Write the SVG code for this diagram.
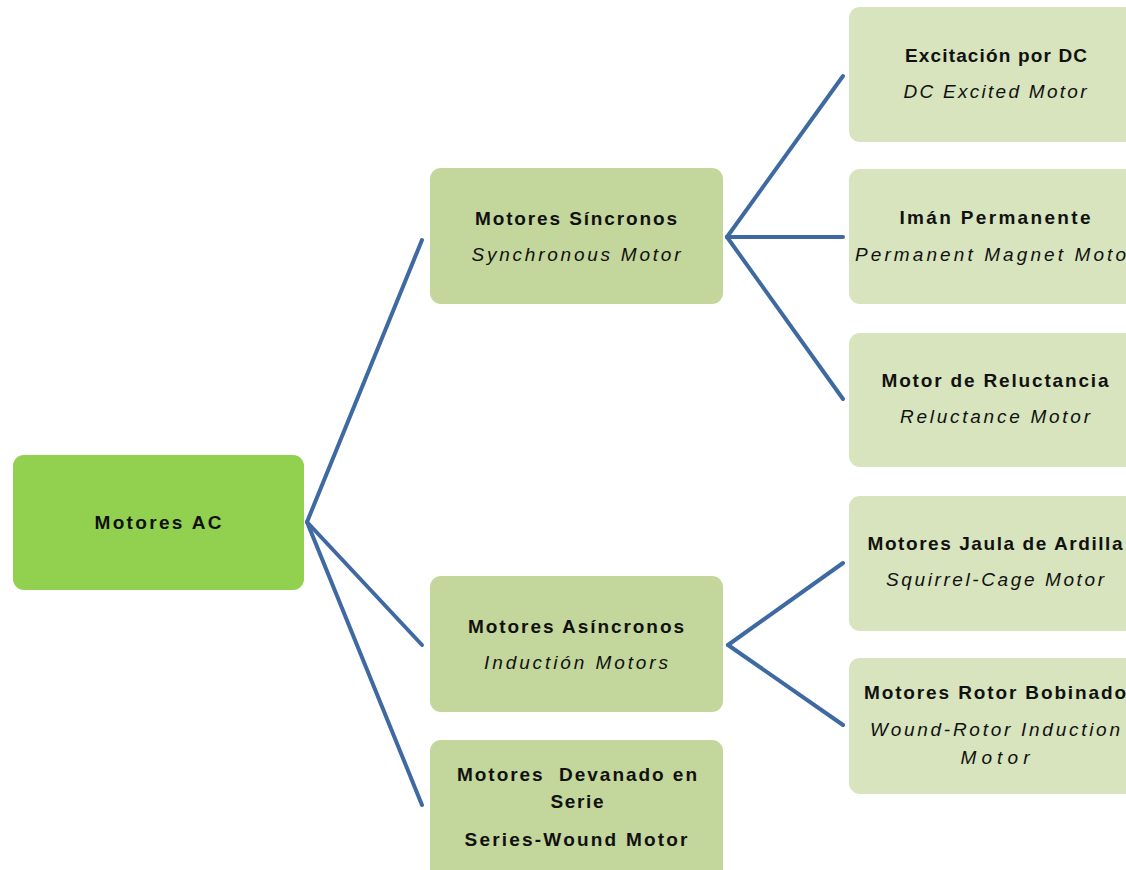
<svg xmlns="http://www.w3.org/2000/svg" width="1126" height="870" viewBox="0 0 1126 870">
<style>
.root{fill:#92d050}
.l2{fill:#c3d69b}
.l3{fill:#d7e4bd}
text{font-family:"Liberation Sans",Arial,sans-serif;font-size:19px;fill:#111;text-anchor:middle}
.b{font-weight:bold}
.i{font-style:italic}
.c line{stroke:#3e6aa1;stroke-width:4;stroke-linecap:round}
</style>
<rect width="1126" height="870" fill="#ffffff"/>
<g class="c" id="connectors">
<line x1="307" y1="522" x2="422" y2="240"/>
<line x1="307" y1="522" x2="422" y2="645"/>
<line x1="307" y1="522" x2="422" y2="805"/>
<line x1="727" y1="237" x2="843" y2="76"/>
<line x1="727" y1="237" x2="843" y2="237"/>
<line x1="727" y1="237" x2="843" y2="399"/>
<line x1="728" y1="645" x2="843" y2="563"/>
<line x1="728" y1="645" x2="843" y2="725"/>
</g>
<g id="n-root">
<rect class="root" x="13" y="455" width="291" height="135" rx="11"/>
<text class="b" x="158" y="529" textLength="127" lengthAdjust="spacing">Motores AC</text>
</g>
<g id="n-sincronos">
<rect class="l2" x="430" y="168" width="293" height="136" rx="11"/>
<text class="b" x="576" y="225" textLength="202" lengthAdjust="spacing">Motores Síncronos</text>
<text class="i" x="576" y="261" textLength="209" lengthAdjust="spacing">Synchronous Motor</text>
</g>
<g id="n-asincronos">
<rect class="l2" x="430" y="576" width="293" height="136" rx="11"/>
<text class="b" x="576" y="633" textLength="216" lengthAdjust="spacing">Motores Asíncronos</text>
<text class="i" x="576" y="669" textLength="184" lengthAdjust="spacing">Inductión Motors</text>
</g>
<g id="n-serie">
<rect class="l2" x="430" y="740" width="293" height="145" rx="11"/>
<text class="b" x="577" y="781" textLength="240" lengthAdjust="spacing" xml:space="preserve">Motores  Devanado en</text>
<text class="b" x="577" y="808" textLength="53" lengthAdjust="spacing">Serie</text>
<text class="b" x="576" y="846" textLength="223" lengthAdjust="spacing">Series-Wound Motor</text>
</g>
<g id="n-dc">
<rect class="l3" x="849" y="7" width="300" height="135" rx="11"/>
<text class="b" x="996" y="62" textLength="182" lengthAdjust="spacing">Excitación por DC</text>
<text class="i" x="995" y="98" textLength="183" lengthAdjust="spacing">DC Excited Motor</text>
</g>
<g id="n-iman">
<rect class="l3" x="849" y="169" width="300" height="135" rx="11"/>
<text class="b" x="995" y="224" textLength="191" lengthAdjust="spacing">Imán Permanente</text>
<text class="i" x="855" y="261" textLength="271" lengthAdjust="spacing" style="text-anchor:start">Permanent Magnet Moto</text>
</g>
<g id="n-reluct">
<rect class="l3" x="849" y="333" width="300" height="134" rx="11"/>
<text class="b" x="995" y="387" textLength="227" lengthAdjust="spacing">Motor de Reluctancia</text>
<text class="i" x="995" y="423" textLength="190" lengthAdjust="spacing">Reluctance Motor</text>
</g>
<g id="n-jaula">
<rect class="l3" x="849" y="496" width="300" height="135" rx="11"/>
<text class="b" x="995" y="550" textLength="255" lengthAdjust="spacing">Motores Jaula de Ardilla</text>
<text class="i" x="995" y="586" textLength="218" lengthAdjust="spacing">Squirrel-Cage Motor</text>
</g>
<g id="n-rotor">
<rect class="l3" x="849" y="658" width="300" height="136" rx="11"/>
<text class="b" x="995" y="699" textLength="262" lengthAdjust="spacing">Motores Rotor Bobinado</text>
<text class="i" x="995" y="736" textLength="250" lengthAdjust="spacing">Wound-Rotor Induction</text>
<text class="i" x="995" y="764" textLength="69" lengthAdjust="spacing">Motor</text>
</g>
</svg>
